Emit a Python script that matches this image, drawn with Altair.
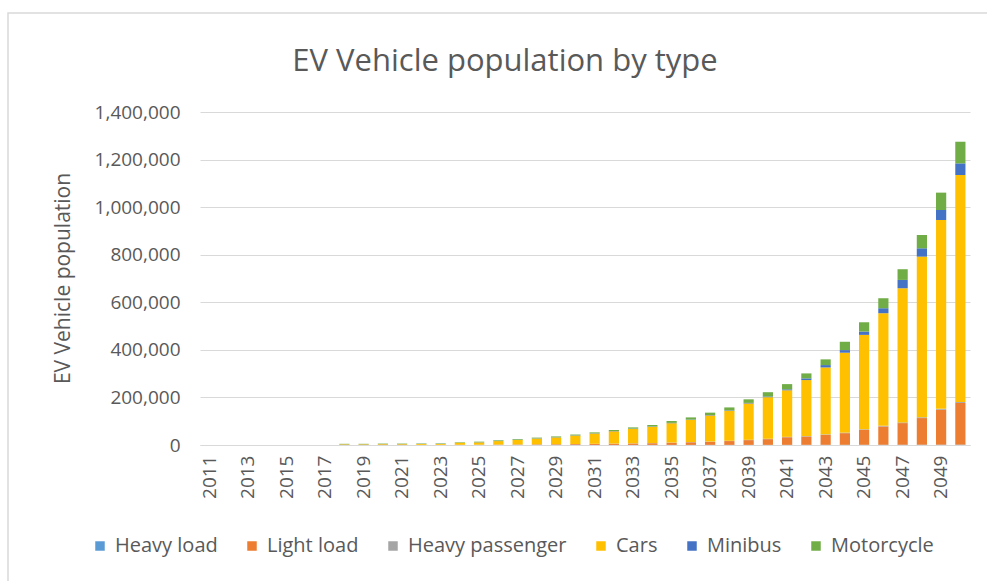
import altair as alt
import pandas as pd

years = [2011, 2012, 2013, 2014, 2015, 2016, 2017, 2018, 2019, 2020,
         2021, 2022, 2023, 2024, 2025, 2026, 2027, 2028, 2029, 2030,
         2031, 2032, 2033, 2034, 2035, 2036, 2037, 2038, 2039, 2040,
         2041, 2042, 2043, 2044, 2045, 2046, 2047, 2048, 2049, 2050]

series_names = ["Heavy load", "Light load", "Heavy passenger", "Cars", "Minibus", "Motorcycle"]
series_colors = ["#5B9BD5", "#ED7D31", "#A5A5A5", "#FFC000", "#4472C4", "#70AD47"]

heavy_load = [0, 0, 0, 0, 0, 0, 0,
              100, 100, 100, 100, 100, 100, 100, 100, 200, 200, 200, 200, 300, 300, 300,
              300, 400, 400, 400, 500, 500, 500, 600, 600, 700, 800, 800, 900, 1000, 1100, 1200, 1300, 1500]
light_load = [0, 0, 0, 0, 0, 0, 0,
              200, 200, 300, 300, 300, 400, 600, 800, 1200, 1600, 2100, 2600, 3300, 4100, 5000,
              6000, 7000, 9000, 11000, 13000, 16000, 20000, 24000, 32000, 35000, 42000, 49000,
              63000, 77000, 91000, 112000, 147000, 175000]
heavy_passenger = [0, 0, 0, 0, 0, 0, 0,
                   300, 300, 300, 300, 300, 300, 400, 400, 400, 500, 500, 500, 600, 600, 700,
                   700, 800, 900, 1000, 1100, 1200, 1300, 1500, 1600, 1800, 2000, 2200, 2400,
                   2700, 3000, 3300, 3600, 4000]
cars = [0, 0, 0, 0, 0, 0, 0,
        2400, 2400, 3000, 3000, 3500, 3600, 7900, 9500, 14700, 19000, 24200, 28500, 35200, 43100, 51600,
        60800, 68500, 81300, 93100, 109700, 126300, 152900, 174900, 195800, 235500, 281200, 336000,
        396700, 473300, 563900, 675500, 794100, 954500]
minibus = [0, 0, 0, 0, 0, 0, 0,
           500, 500, 600, 600, 600, 700, 800, 800, 900, 900, 1000, 1000, 1100, 1100, 1200,
           1200, 1300, 1400, 1500, 1700, 2000, 2300, 3000, 4000, 7000, 10000, 11000,
           14000, 21000, 35000, 35000, 42000, 49000]
motorcycle = [0, 0, 0, 0, 0, 0, 0,
              1500, 1500, 1700, 1700, 1700, 1900, 2200, 2400, 2600, 2800, 3000, 3200, 3500, 3800, 4200,
              5000, 6000, 8000, 9000, 10000, 12000, 15000, 18000, 22000, 21000, 24000, 35000,
              39000, 42000, 45000, 56000, 73000, 91000]

x_tick_labels = ["2011", "2013", "2015", "2017", "2019", "2021", "2023", "2025", "2027", "2029",
                 "2031", "2033", "2035", "2037", "2039", "2041", "2043", "2045", "2047", "2049"]
y_ticks = [0, 200000, 400000, 600000, 800000, 1000000, 1200000, 1400000]

all_series = [heavy_load, light_load, heavy_passenger, cars, minibus, motorcycle]
rows = []
for i, (name, vals) in enumerate(zip(series_names, all_series)):
    for y, v in zip(years, vals):
        rows.append({"Year": str(y), "Type": name, "Value": v, "idx": i})
df = pd.DataFrame(rows)

FONT = "Open Sans"
TXT = "#595959"

bars = alt.Chart(df).mark_bar().encode(
    x=alt.X("Year:O", sort=[str(y) for y in years],
            scale=alt.Scale(paddingInner=0.47, paddingOuter=0.235),
            axis=alt.Axis(title=None, labelAngle=-90, values=x_tick_labels,
                          labelFontSize=19, labelColor=TXT, labelFont=FONT,
                          labelPadding=10, ticks=False, domain=True,
                          domainColor="#D9D9D9", grid=False)),
    y=alt.Y("Value:Q", stack="zero",
            scale=alt.Scale(domain=[0, 1400000], nice=False),
            axis=alt.Axis(values=y_ticks, labelExpr="format(datum.value, ',.0f')",
                          title="EV Vehicle population",
                          labelFontSize=19, labelColor=TXT, labelFont=FONT, labelPadding=20,
                          domain=False, ticks=False, gridColor="#D9D9D9",
                          titleFontSize=21, titleFont=FONT, titleColor=TXT, titleFontWeight="normal",
                          titleAngle=-90, titleX=-137, titleY=166, titleAlign="center",
                          titleBaseline="middle")),
    color=alt.Color("Type:N",
                    scale=alt.Scale(domain=series_names, range=series_colors),
                    legend=alt.Legend(title=None, orient="none", direction="horizontal",
                                      legendX=-110, legendY=424,
                                      symbolType="square", symbolSize=90, symbolStrokeWidth=0,
                                      labelFontSize=20, labelFont=FONT, labelColor=TXT,
                                      labelOffset=5, columnPadding=24)),
    order=alt.Order("idx:Q", sort="ascending"),
)

border = alt.Chart(alt.Data(values=[{"a": 1}])).mark_rect(
    fill="transparent", stroke="#D9D9D9", strokeWidth=1.5
).encode(
    x=alt.value(-192), x2=alt.value(800), y=alt.value(-99), y2=alt.value(480)
)

chart = alt.layer(border, bars).properties(
    width=770, height=333,
    title=alt.TitleParams("EV Vehicle population by type", fontSize=31, font=FONT,
                          color=TXT, fontWeight="normal", anchor="middle", dx=-80,
                          offset=4, dy=70),
    autosize=alt.AutoSizeParams(type="none"),
    padding={"left": 200, "top": 112, "right": 17, "bottom": 136},
    background="white",
).configure_view(stroke=None)

chart.save("out.html", embed_options={"renderer": "svg", "actions": False})
